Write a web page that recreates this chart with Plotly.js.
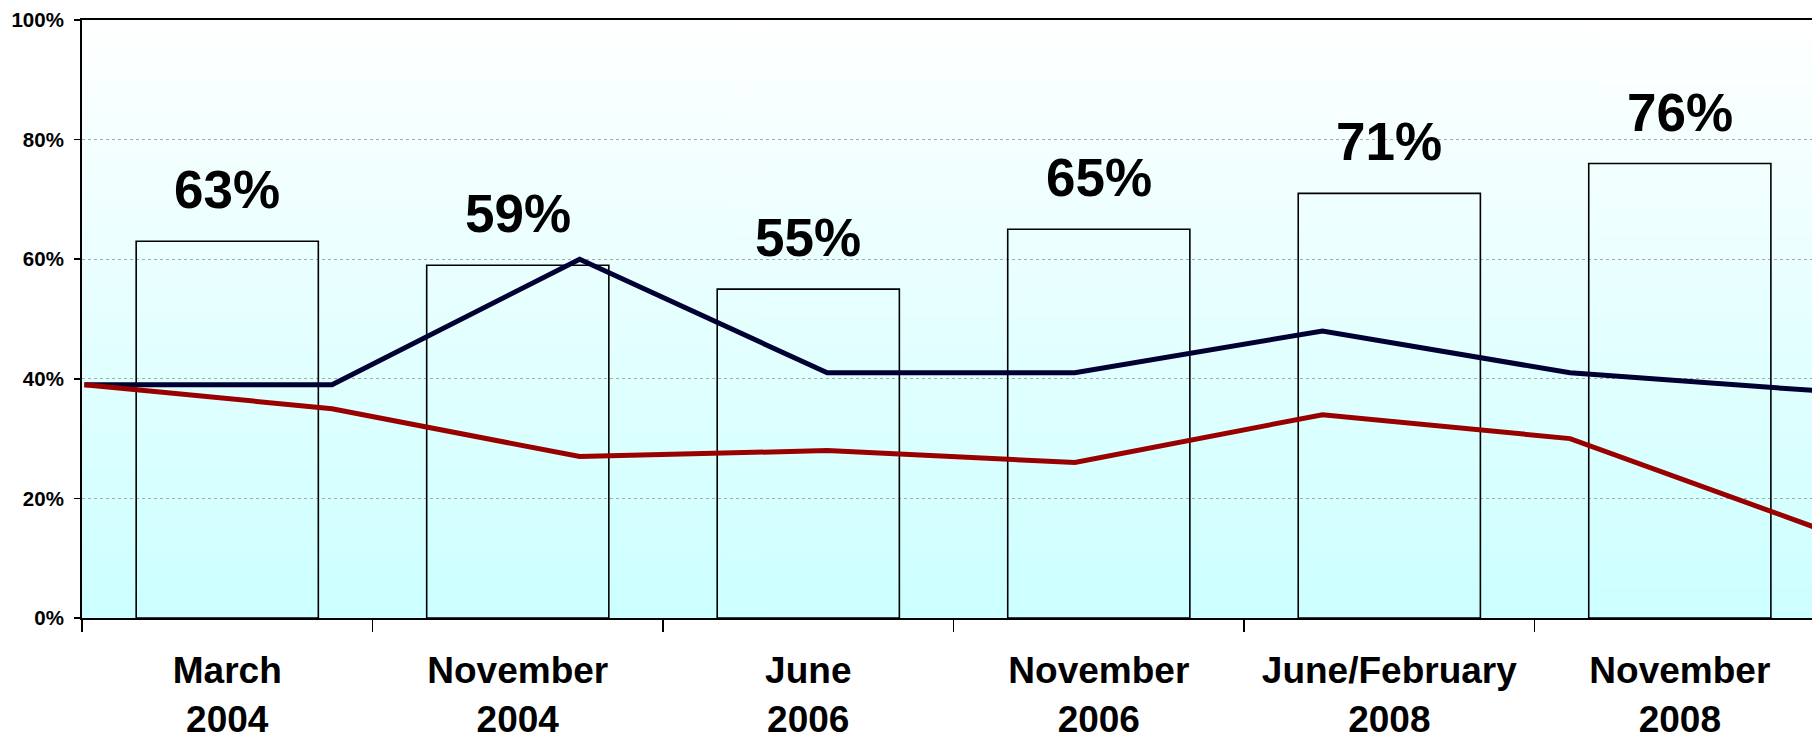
<!DOCTYPE html>
<html><head><meta charset="utf-8">
<script src="https://cdn.plot.ly/plotly-3.0.1.min.js"></script>
<style>html,body{margin:0;padding:0;background:#fff;overflow:hidden}#chart{width:1812px;height:737px}</style>
</head><body><div id="chart"></div>
<script>
const categories = ["March<br>2004","November<br>2004","June<br>2006","November<br>2006","June/February<br>2008","November<br>2008"];
const barValues = [63,59,55,65,71,76];
const blueValues = [39,39,60,41,41,48,41,38];
const redValues = [39,35,27,28,26,34,30,15];
const yTickVals = [0,20,40,60,80,100];
const yTickText = ["0%","20%","40%","60%","80%","100%"];

const FONT = "Liberation Sans, Arial, sans-serif";

// vertical gradient background for the plot area
const cv = document.createElement('canvas'); cv.width = 4; cv.height = 512;
const ctx = cv.getContext('2d');
const g = ctx.createLinearGradient(0,0,0,512);
g.addColorStop(0,'#ffffff'); g.addColorStop(1,'#ccffff');
ctx.fillStyle = g; ctx.fillRect(0,0,4,512);

const lineIdx = blueValues.map((_, i) => i);

const traces = [
  {type:'bar', x:categories, y:barValues, width:0.627,
   marker:{color:'rgba(0,0,0,0)', line:{color:'#000000', width:1.6}},
   hoverinfo:'skip', showlegend:false},
  {type:'scatter', mode:'lines', xaxis:'x2', yaxis:'y', x:lineIdx, y:blueValues,
   line:{color:'#000033', width:5}, hoverinfo:'skip', showlegend:false},
  {type:'scatter', mode:'lines', xaxis:'x2', yaxis:'y', x:lineIdx, y:redValues,
   line:{color:'#990000', width:5}, hoverinfo:'skip', showlegend:false}
];

const annotations = barValues.map((v, i) => ({
  x: categories[i], y: v, xref:'x', yref:'y', text: '<b>' + v + '%</b>',
  showarrow:false, yanchor:'bottom', xanchor:'center', yshift: 20,
  font:{family:FONT, size:53, color:'#000'}
}));

const layout = {
  width:1812, height:737,
  margin:{l:82, r:0, t:20, b:119, pad:0},
  paper_bgcolor:'#ffffff', plot_bgcolor:'rgba(0,0,0,0)',
  showlegend:false, bargap:0,
  font:{family:FONT, color:'#000'},
  images:[{source:cv.toDataURL(), xref:'paper', yref:'paper', x:0, y:1, sizex:1, sizey:1,
           xanchor:'left', yanchor:'top', sizing:'stretch', layer:'below'}],
  xaxis:{type:'category', range:[-0.5, 5.455], tickson:'boundaries', ticks:'outside', ticklen:12,
         tickwidth:1.6, tickcolor:'#000', showline:true, mirror:true, linecolor:'#000', linewidth:2,
         showgrid:false, zeroline:false, fixedrange:true, ticklabelstandoff:19,
         tickfont:{family:FONT, size:37, color:'#000', weight:'bold'}},
  xaxis2:{overlaying:'x', anchor:'y', type:'linear', range:[-0.0097, 6.977], visible:false, fixedrange:true},
  yaxis:{range:[0,100], tickvals:yTickVals, ticktext:yTickText, ticks:'outside', ticklen:6,
         tickwidth:1.6, tickcolor:'#000', showline:true, linecolor:'#000', linewidth:2,
         showgrid:true, gridcolor:'#a8a8a8', gridwidth:1, griddash:'dot', zeroline:false, fixedrange:true,
         ticklabelstandoff:6,
         tickfont:{family:FONT, size:20.5, color:'#000', weight:'bold'}},
  annotations: annotations
};

Plotly.newPlot('chart', traces, layout, {displayModeBar:false, staticPlot:true});
</script></body></html>
